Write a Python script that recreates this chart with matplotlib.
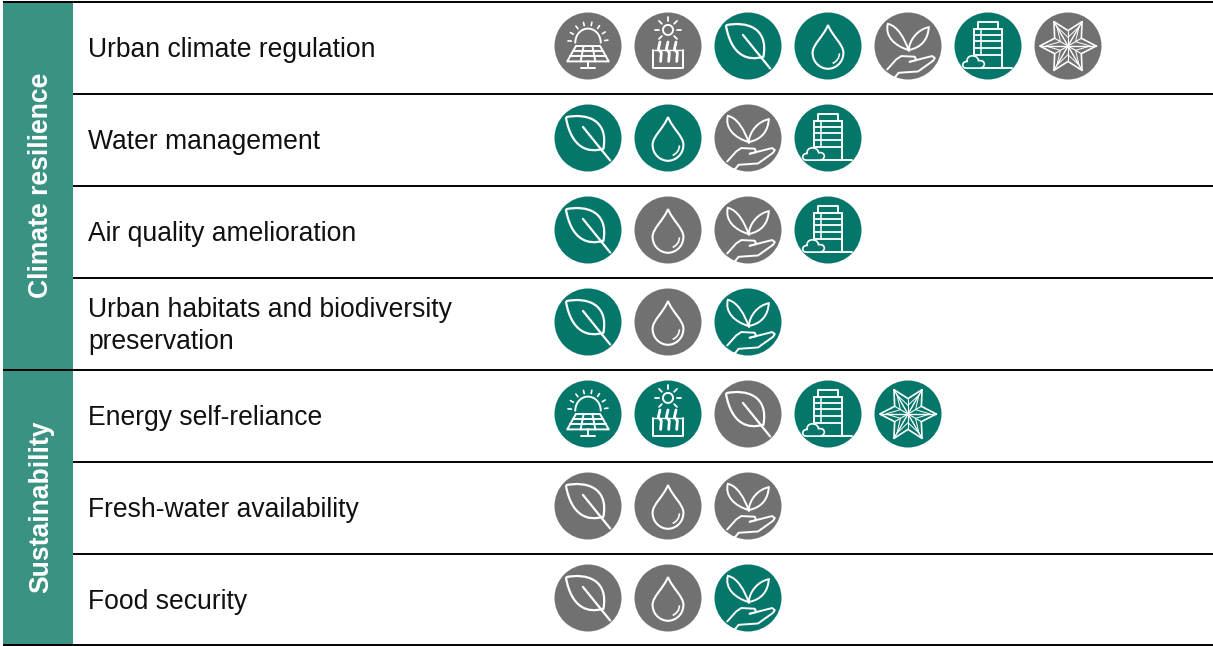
import numpy as np
import matplotlib
matplotlib.use('Agg')
import matplotlib.pyplot as plt
from matplotlib.patches import Circle, PathPatch, Rectangle
from matplotlib.path import Path

# table content
groups = ['Climate resilience', 'Sustainability']
group_rows = [4, 3]
rows = ['Urban climate regulation', 'Water management', 'Air quality amelioration',
        'Urban habitats and biodiversity\npreservation', 'Energy self-reliance',
        'Fresh-water availability', 'Food security']
row_icons = [['solar', 'heat', 'leaf', 'drop', 'plant', 'building', 'star'],
             ['leaf', 'drop', 'plant', 'building'],
             ['leaf', 'drop', 'plant', 'building'],
             ['leaf', 'drop', 'plant'],
             ['solar', 'heat', 'leaf', 'building', 'star'],
             ['leaf', 'drop', 'plant'],
             ['leaf', 'drop', 'plant']]
# 1 = green icon, 0 = grey icon
row_active = [[0, 0, 1, 1, 0, 1, 0],
              [1, 1, 0, 1],
              [1, 0, 0, 1],
              [1, 0, 1],
              [1, 1, 0, 1, 1],
              [0, 0, 0],
              [0, 0, 1]]

TEAL = '#04766a'
GREY = '#717171'
BAND = '#3a9283'
ROW_H = 92
TOP = 2
R = 33.5


def line(ax, cx, cy, xs, ys, lw=1.4):
    ax.plot(cx + np.array(xs) * R, cy + np.array(ys) * R, color='white', lw=lw,
            solid_capstyle='round', solid_joinstyle='round', zorder=4)


def curve(ax, cx, cy, pts, lw=1.4):
    # pts: start point then bezier triples
    verts = [(cx + x * R, cy + y * R) for x, y in pts]
    codes = [Path.MOVETO] + [Path.CURVE4] * (len(pts) - 1)
    ax.add_patch(PathPatch(Path(verts, codes), fc='none', ec='white', lw=lw, zorder=4))


def solar(ax, cx, cy):
    t = np.linspace(np.pi, 2 * np.pi, 30)
    line(ax, cx, cy, 0.38 * np.cos(t), -0.1 + 0.42 * np.sin(t))
    for a in np.radians(np.arange(185, 360, 24)):
        line(ax, cx, cy, [0.5 * np.cos(a), 0.6 * np.cos(a)],
             [-0.1 + 0.52 * np.sin(a), -0.1 + 0.62 * np.sin(a)], lw=1.2)
    line(ax, cx, cy, [-0.36, 0.36, 0.62, -0.62, -0.36], [0.0, 0.0, 0.46, 0.46, 0.0])
    line(ax, cx, cy, [-0.44, 0.44], [0.15, 0.15])
    line(ax, cx, cy, [-0.53, 0.53], [0.3, 0.3])
    line(ax, cx, cy, [-0.13, -0.22], [0.0, 0.46])
    line(ax, cx, cy, [0.13, 0.22], [0.0, 0.46])
    line(ax, cx, cy, [0, 0], [0.46, 0.66])
    line(ax, cx, cy, [-0.2, 0.2], [0.66, 0.66])


def heat(ax, cx, cy):
    t = np.linspace(0, 2 * np.pi, 40)
    line(ax, cx, cy, 0.15 * np.cos(t), -0.48 + 0.15 * np.sin(t))
    for a in np.radians(np.arange(0, 360, 45)):
        if np.sin(a) > 0.9:
            continue
        line(ax, cx, cy, [0.26 * np.cos(a), 0.38 * np.cos(a)],
             [-0.48 + 0.26 * np.sin(a), -0.48 + 0.38 * np.sin(a)], lw=1.3)
    line(ax, cx, cy, [-0.45, -0.45, 0.45, 0.45], [0.12, 0.67, 0.67, 0.12])
    line(ax, cx, cy, [-0.45, 0.45], [0.12, 0.12], lw=1.0)
    for dx in [-0.24, 0, 0.24]:
        line(ax, cx, cy, [dx, dx - 0.05, dx + 0.04, dx + 0.02], [-0.12, 0.1, 0.2, 0.46], lw=2)


def leaf(ax, cx, cy):
    curve(ax, cx, cy, [(-0.66, -0.62), (-0.05, -0.75), (0.62, -0.55), (0.46, 0.32),
                       (0.0, 0.46), (-0.5, 0.3), (-0.66, -0.62)], lw=1.6)
    line(ax, cx, cy, [-0.15, 0.66], [-0.33, 0.67], lw=1.6)


def drop(ax, cx, cy):
    curve(ax, cx, cy, [(0, -0.63), (0.12, -0.3), (0.46, -0.05), (0.46, 0.2),
                       (0.46, 0.5), (0.22, 0.68), (0, 0.68),
                       (-0.22, 0.68), (-0.46, 0.5), (-0.46, 0.2),
                       (-0.46, -0.05), (-0.12, -0.3), (0, -0.63)], lw=1.5)
    curve(ax, cx, cy, [(0.34, 0.22), (0.34, 0.36), (0.26, 0.46), (0.14, 0.52)], lw=1.2)


def plant(ax, cx, cy):
    curve(ax, cx, cy, [(0.02, 0.12), (-0.1, -0.2), (-0.3, -0.6), (-0.6, -0.66),
                       (-0.7, -0.3), (-0.4, 0), (0.02, 0.12)])
    curve(ax, cx, cy, [(0.02, 0.12), (0.05, -0.2), (0.3, -0.5), (0.62, -0.56),
                       (0.6, -0.2), (0.4, 0.05), (0.02, 0.12)])
    line(ax, cx, cy, [0.02, 0.02], [0.12, 0.15])
    line(ax, cx, cy, [-0.62, -0.35, -0.2, 0.2, 0.25, 0.05], [0.7, 0.4, 0.3, 0.32, 0.42, 0.47])
    line(ax, cx, cy, [0.05, 0.72, 0.8, 0.75, 0.3, -0.28, -0.42], [0.47, 0.3, 0.36, 0.44, 0.76, 0.8, 0.97])


def building(ax, cx, cy):
    line(ax, cx, cy, [-0.42, -0.42, 0.42, 0.42], [0.3, -0.52, -0.52, 0.66])
    line(ax, cx, cy, [-0.42, -0.3, -0.3, 0.3, 0.3, 0.42], [-0.52, -0.52, -0.72, -0.72, -0.52, -0.52])
    for y in [-0.34, -0.14, 0.06, 0.26]:
        line(ax, cx, cy, [-0.42, 0.42], [y, y], lw=1.3)
    line(ax, cx, cy, [-0.22, -0.22], [-0.52, 0.26], lw=1.1)
    # cloud
    curve(ax, cx, cy, [(-0.22, 0.66), (-0.05, 0.62), (-0.08, 0.4), (-0.28, 0.44),
                       (-0.32, 0.22), (-0.66, 0.26), (-0.62, 0.46),
                       (-0.8, 0.46), (-0.8, 0.68), (-0.62, 0.66),
                       (-0.5, 0.66), (-0.35, 0.66), (-0.22, 0.66)], lw=1.2)
    line(ax, cx, cy, [-0.22, 0.72], [0.66, 0.66])


def star(ax, cx, cy):
    # six pointed folded star
    a = np.radians(np.arange(0, 360, 60))
    b = a + np.radians(30)
    xs, ys = [], []
    for i in range(6):
        xs += [0.84 * np.cos(a[i]), 0.46 * np.cos(b[i])]
        ys += [0.84 * np.sin(a[i]), 0.46 * np.sin(b[i])]
    line(ax, cx, cy, xs + xs[:1], ys + ys[:1], lw=1.2)
    for i in range(6):
        line(ax, cx, cy, [0, 0.84 * np.cos(a[i])], [0, 0.84 * np.sin(a[i])], lw=1.0)
        line(ax, cx, cy, [0, 0.46 * np.cos(b[i])], [0, 0.46 * np.sin(b[i])], lw=0.8)
        line(ax, cx, cy, [0.26 * np.cos(b[i]), 0.66 * np.cos(a[i]), 0.26 * np.cos(b[i - 1])],
             [0.26 * np.sin(b[i]), 0.66 * np.sin(a[i]), 0.26 * np.sin(b[i - 1])], lw=0.7)


draw_icon = {'solar': solar, 'heat': heat, 'leaf': leaf, 'drop': drop,
             'plant': plant, 'building': building, 'star': star}

plt.rcParams['font.family'] = ['Liberation Sans', 'DejaVu Sans']
fig = plt.figure(figsize=(12.13, 6.46), dpi=100)
ax = fig.add_axes([0, 0, 1, 1])
ax.set_xlim(0, 1213)
ax.set_ylim(646, 0)
ax.axis('off')

# group bands, the row lines stop at the band except between groups
start = 0
group_edges = [0]
for name, n in zip(groups, group_rows):
    y0 = TOP + start * ROW_H
    ax.add_patch(Rectangle((3, y0), 70, n * ROW_H, fc=BAND, ec='none', zorder=1))
    ax.text(41, y0 + n * ROW_H / 2 - 1, name, rotation=90, color='white', fontsize=19.1,
            fontweight='bold', ha='center', va='center', zorder=3)
    start += n
    group_edges.append(start)

# row lines
for i in range(len(rows) + 1):
    y = TOP + i * ROW_H - (1 if i == len(rows) else 0)
    x0 = 3 if i in group_edges else 73
    ax.plot([x0, 1213], [y, y], color='black', lw=1.4, zorder=2, solid_capstyle='butt')

# labels and icons
for i, label in enumerate(rows):
    yc = TOP + i * ROW_H + ROW_H / 2
    ax.text(88, yc + 2, label, fontsize=19.1, color='#111111', ha='left', va='center',
            linespacing=1.3, zorder=3)
    for j, (icon, on) in enumerate(zip(row_icons[i], row_active[i])):
        cx = 588 + j * 80
        cy = yc - 2
        ax.add_patch(Circle((cx, cy), R, fc=TEAL if on else GREY, ec='none', zorder=3))
        draw_icon[icon](ax, cx, cy)

fig.savefig('out.png', dpi=100)
